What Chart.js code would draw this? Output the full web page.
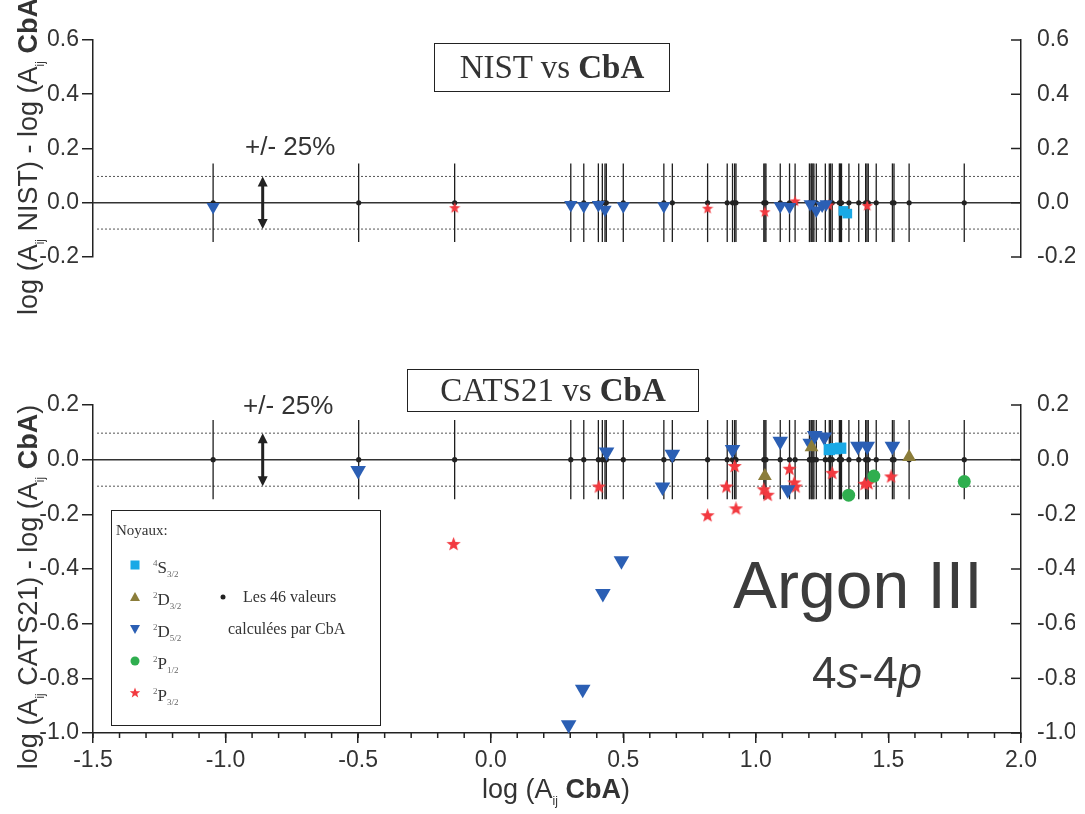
<!DOCTYPE html>
<html>
<head>
<meta charset="utf-8">
<script src="https://cdn.jsdelivr.net/npm/chart.js@4.4.1/dist/chart.umd.min.js"></script>
<style>
  body { margin: 0; background: #fff; width: 1085px; height: 814px; position: relative; overflow: hidden;
         font-family: "Liberation Sans", Arial, sans-serif; color: #333; }
  canvas { position: absolute; left: 0; }
  #topChart { top: 0; }
  #botChart { top: 300px; }
  .txt { position: absolute; white-space: nowrap; }
  .ytitle { position: absolute; white-space: nowrap; font-size: 27px; transform: translate(-50%, -50%) rotate(-90deg); }
  .xtitle { position: absolute; white-space: nowrap; font-size: 27px; transform: translate(-50%, -50%); }
  .ytitle sub, .xtitle sub { font-size: 12px; }
  .box { position: absolute; box-sizing: border-box; border: 1.5px solid #222; display: flex; align-items: center;
         justify-content: center; font-family: "Liberation Serif", "Times New Roman", serif; font-size: 33px; color: #333; }
  .legend { position: absolute; left: 111px; top: 510px; width: 270px; height: 216px; box-sizing: border-box; border: 1.5px solid #222; }
  .sym { position: absolute; }
  .lab { position: absolute; font-family: "Liberation Serif", "Times New Roman", serif; font-size: 17px; line-height: 22px; color: #333; }
  .lab sup, .lab sub { font-size: 9px; color: #666; }
</style>
</head>
<body>
<canvas id="topChart" width="1085" height="300"></canvas>
<canvas id="botChart" width="1085" height="514"></canvas>

<!-- titles -->
<div class="ytitle" style="left:30px; top:152px;">log (A<sub>ij</sub> NIST) - log (A<sub>ij</sub> <b>CbA</b>)</div>
<div class="ytitle" style="left:30px; top:587px;">log (A<sub>ij</sub> CATS21) - log (A<sub>ij</sub> <b>CbA</b>)</div>
<div class="xtitle" style="left:556px; top:791px;">log (A<sub>ij</sub> <b>CbA</b>)</div>

<div class="box" style="left:434px; top:43px; width:236px; height:49px;">NIST vs&nbsp;<b>CbA</b></div>
<div class="box" style="left:407px; top:369px; width:292px; height:43px;">CATS21 vs&nbsp;<b>CbA</b></div>

<div class="txt" style="left:245px; top:131px; font-size:26px;">+/- 25%</div>
<div class="txt" style="left:243px; top:390px; font-size:26px;">+/- 25%</div>

<div class="txt" style="left:733px; top:547px; font-size:66px; color:#3c3c3c;">Argon III</div>
<div class="txt" style="left:812px; top:648px; font-size:44px; color:#3c3c3c;">4<i>s</i>-4<i>p</i></div>

<!-- legend -->
<div class="legend"></div>
<div class="lab" style="left:116px; top:519px; font-size:15px;">Noyaux:</div>
<svg class="sym" style="left:129px; top:559px;" width="12" height="12"><rect x="1.5" y="1.5" width="9" height="9" fill="#19a9e6"/></svg>
<svg class="sym" style="left:129px; top:591px;" width="12" height="12"><polygon points="6,1 11,10 1,10" fill="#8b7d3a"/></svg>
<svg class="sym" style="left:129px; top:623px;" width="12" height="12"><polygon points="1,2 11,2 6,11" fill="#2b5fb4"/></svg>
<svg class="sym" style="left:129px; top:655px;" width="12" height="12"><circle cx="6" cy="6" r="4.5" fill="#2fae4f"/></svg>
<svg class="sym" style="left:129px; top:687px;" width="12" height="12"><polygon points="6,0.5 7.35,4.14 11.23,4.3 8.19,6.71 9.23,10.45 6,8.3 2.77,10.45 3.81,6.71 0.77,4.3 4.65,4.14" fill="#f2393f"/></svg>
<div class="lab" style="left:153px; top:552px;"><sup>4</sup>S<sub>3/2</sub></div>
<div class="lab" style="left:153px; top:584px;"><sup>2</sup>D<sub>3/2</sub></div>
<div class="lab" style="left:153px; top:616px;"><sup>2</sup>D<sub>5/2</sub></div>
<div class="lab" style="left:153px; top:648px;"><sup>2</sup>P<sub>1/2</sub></div>
<div class="lab" style="left:153px; top:680px;"><sup>2</sup>P<sub>3/2</sub></div>
<svg class="sym" style="left:220px; top:594px;" width="6" height="6"><circle cx="3" cy="3" r="2.5" fill="#222"/></svg>
<div class="lab" style="left:243px; top:586px; font-size:16px;">Les 46 valeurs</div>
<div class="lab" style="left:228px; top:618px; font-size:16px;">calculées par CbA</div>

<script>
// axes
const xMin = -1.5, xMax = 2.0;
const topYMin = -0.2, topYMax = 0.6;
const botYMin = -1.0, botYMax = 0.2;
const band = 0.097;      // +/- 25 %
const arrowX = -0.86;

// les 46 valeurs calculées par CbA (log A), with their error bar
const cbaX = [-1.047, -0.498, -0.136,
  0.302, 0.351, 0.406, 0.421, 0.431, 0.436, 0.50, 0.653, 0.685, 0.818, 0.892, 0.912, 0.92, 0.925,
  1.03, 1.034, 1.038, 1.092, 1.127, 1.148, 1.202, 1.208, 1.211, 1.215, 1.219, 1.228, 1.262, 1.277,
  1.282, 1.288, 1.315, 1.319, 1.323, 1.351, 1.388, 1.414, 1.419, 1.424, 1.454, 1.515, 1.521, 1.578, 1.786];
const cbaErr = 0.145;

// NIST - CbA
const nistS32X = [1.33, 1.345];
const nistS32Y = [-0.03, -0.04];
const nistD52X = [-1.047, 0.302, 0.351, 0.406, 0.431, 0.50, 0.653, 1.092, 1.127, 1.205, 1.228, 1.25, 1.265];
const nistD52Y = [-0.015, -0.008, -0.012, -0.008, -0.025, -0.012, -0.012, -0.012, -0.015, -0.005, -0.028, -0.01, -0.005];
const nistP32X = [-0.136, 0.818, 1.034, 1.148, 1.275, 1.42];
const nistP32Y = [-0.02, -0.022, -0.035, 0.005, -0.01, -0.012];

// CATS21 - CbA
const catsS32X = [1.277, 1.30, 1.32];
const catsS32Y = [0.037, 0.04, 0.042];
const catsD32X = [1.034, 1.21, 1.578];
const catsD32Y = [-0.06, 0.045, 0.01];
const catsD52X = [-0.5, 0.294, 0.347, 0.423, 0.493, 0.437, 0.685, 0.648, 0.912, 1.092, 1.12, 1.205, 1.222, 1.258, 1.385, 1.42, 1.515];
const catsD52Y = [-0.04, -0.97, -0.84, -0.49, -0.37, 0.028, 0.02, -0.1, 0.037, 0.067, -0.11, 0.06, 0.088, 0.083, 0.049, 0.049, 0.049];
const catsP12X = [1.35, 1.445, 1.786];
const catsP12Y = [-0.13, -0.06, -0.08];
const catsP32X = [-0.14, 0.408, 0.818, 0.889, 0.92, 0.925, 1.03, 1.045, 1.127, 1.145, 1.15, 1.288, 1.41, 1.425, 1.51];
const catsP32Y = [-0.31, -0.1, -0.205, -0.1, -0.025, -0.18, -0.11, -0.13, -0.035, -0.085, -0.1, -0.05, -0.09, -0.088, -0.063];

const C = { s32: '#19a9e6', d32: '#8b7d3a', d52: '#2b5fb4', p12: '#2fae4f', p32: '#f2393f', dot: '#222' };
const SANS = '"Liberation Sans", Arial, sans-serif';

const pts = (xs, ys) => xs.map((x, i) => ({ x, y: ys[i] }));

// filled 5 branch star, Chart.js only has the line one
function starImage(size, color) {
  const c = document.createElement('canvas');
  c.width = c.height = size;
  const g = c.getContext('2d');
  g.fillStyle = color;
  g.beginPath();
  for (let i = 0; i < 10; i++) {
    const r = i % 2 ? size * 0.21 : size * 0.5;
    const a = -Math.PI / 2 + i * Math.PI / 5;
    g.lineTo(size / 2 + r * Math.cos(a), size / 2 + r * Math.sin(a));
  }
  g.closePath();
  g.fill();
  return c;
}

function markerSets(s32, d32, d52, p12, p32, big) {
  const k = big ? 1 : 0.85;
  const base = { showLine: false, borderWidth: 0, clip: false, order: 0 };
  return [
    { ...base, label: 'cba', data: cbaX.map(x => ({ x, y: 0 })), pointStyle: 'circle', pointRadius: 2.6, backgroundColor: C.dot, order: 1 },
    { ...base, label: '4S3/2', data: s32, pointStyle: 'rect', pointRadius: 8 * k, backgroundColor: C.s32 },
    { ...base, label: '2D3/2', data: d32, pointStyle: 'triangle', pointRadius: 8 * k, backgroundColor: C.d32 },
    { ...base, label: '2D5/2', data: d52, pointStyle: 'triangle', rotation: 180, pointRadius: 9 * k, backgroundColor: C.d52 },
    { ...base, label: '2P1/2', data: p12, pointStyle: 'circle', pointRadius: 6.5 * k, backgroundColor: C.p12 },
    { ...base, label: '2P3/2', data: p32, pointStyle: starImage(big ? 15 : 12, C.p32) }
  ];
}

function line(ctx, x1, y1, x2, y2) {
  ctx.beginPath(); ctx.moveTo(x1, y1); ctx.lineTo(x2, y2); ctx.stroke();
}

const refLines = {
  id: 'refLines',
  beforeDatasetsDraw(chart) {
    const { ctx, chartArea: a, scales: { x, y } } = chart;
    ctx.save();
    // +/- 25%
    ctx.strokeStyle = '#555'; ctx.lineWidth = 1; ctx.setLineDash([2, 2]);
    [band, -band].forEach(v => line(ctx, a.left + 4, y.getPixelForValue(v), a.right, y.getPixelForValue(v)));
    ctx.setLineDash([]);
    // zero
    ctx.strokeStyle = '#333'; ctx.lineWidth = 1.5;
    line(ctx, a.left, y.getPixelForValue(0), a.right, y.getPixelForValue(0));
    // error bars of CbA
    ctx.strokeStyle = '#1e1e1e'; ctx.lineWidth = 1.3;
    cbaX.forEach(v => {
      const px = x.getPixelForValue(v);
      line(ctx, px, y.getPixelForValue(cbaErr), px, y.getPixelForValue(-cbaErr));
    });
    // double arrow
    const ax = x.getPixelForValue(arrowX), t = y.getPixelForValue(band), b = y.getPixelForValue(-band);
    ctx.strokeStyle = '#222'; ctx.fillStyle = '#222'; ctx.lineWidth = 3;
    line(ctx, ax, t + 6, ax, b - 6);
    ctx.beginPath(); ctx.moveTo(ax, t); ctx.lineTo(ax - 5, t + 10); ctx.lineTo(ax + 5, t + 10); ctx.closePath(); ctx.fill();
    ctx.beginPath(); ctx.moveTo(ax, b); ctx.lineTo(ax - 5, b - 10); ctx.lineTo(ax + 5, b - 10); ctx.closePath(); ctx.fill();
    ctx.restore();
  },
  afterDraw(chart) {
    const { ctx, scales: { x, y2 } } = chart;
    ctx.save();
    ctx.strokeStyle = '#222'; ctx.lineWidth = 1.5;
    // right axis: ticks point inward
    y2.ticks.forEach(t => {
      const py = y2.getPixelForValue(t.value);
      line(ctx, y2.left - 10, py, y2.left, py);
    });
    // minor x ticks every 0.1
    if (x.options.display) {
      for (let i = 0; i <= 35; i++) {
        const px = x.getPixelForValue(xMin + i * 0.1);
        line(ctx, px, x.top, px, x.top + 5);
      }
    }
    ctx.restore();
  }
};

const fmt = v => (Math.abs(v) < 1e-9 ? 0 : v).toFixed(1);

function panel(id, yMin, yMax, withX, datasets) {
  const yTicks = { stepSize: 0.2, callback: fmt, color: '#333', font: { size: 23, family: SANS } };
  return new Chart(document.getElementById(id), {
    type: 'scatter',
    data: { datasets },
    options: {
      responsive: false, animation: false, events: [],
      layout: { padding: withX ? { left: 33, right: 10, top: 105, bottom: 41 } : { left: 33, right: 10, top: 40, bottom: 43 } },
      plugins: { legend: { display: false }, tooltip: { enabled: false } },
      scales: {
        x: {
          type: 'linear', min: xMin, max: xMax, display: withX,
          ticks: { stepSize: 0.5, callback: fmt, maxRotation: 0, autoSkip: false, padding: 4, color: '#333', font: { size: 23, family: SANS } },
          grid: { drawOnChartArea: false, tickLength: 10, color: '#222', lineWidth: 1.5 },
          border: { color: '#222', width: 1.5 },
          afterFit: s => { s.height = withX ? 40 : 0; }
        },
        y: {
          type: 'linear', position: 'left', min: yMin, max: yMax,
          ticks: { ...yTicks, padding: 3 },
          grid: { drawOnChartArea: false, tickLength: 11, color: '#222', lineWidth: 1.5 },
          border: { color: '#222', width: 1.5 },
          afterFit: s => { s.width = 60; }
        },
        y2: {
          type: 'linear', position: 'right', min: yMin, max: yMax,
          ticks: { ...yTicks, padding: 16 },
          grid: { display: false, drawTicks: false },
          border: { color: '#222', width: 1.5 },
          afterFit: s => { s.width = 54; }
        }
      }
    },
    plugins: [refLines]
  });
}

panel('topChart', topYMin, topYMax, false,
  markerSets(pts(nistS32X, nistS32Y), [], pts(nistD52X, nistD52Y), [], pts(nistP32X, nistP32Y), false));

panel('botChart', botYMin, botYMax, true,
  markerSets(pts(catsS32X, catsS32Y), pts(catsD32X, catsD32Y), pts(catsD52X, catsD52Y),
             pts(catsP12X, catsP12Y), pts(catsP32X, catsP32Y), true));
</script>
</body>
</html>
